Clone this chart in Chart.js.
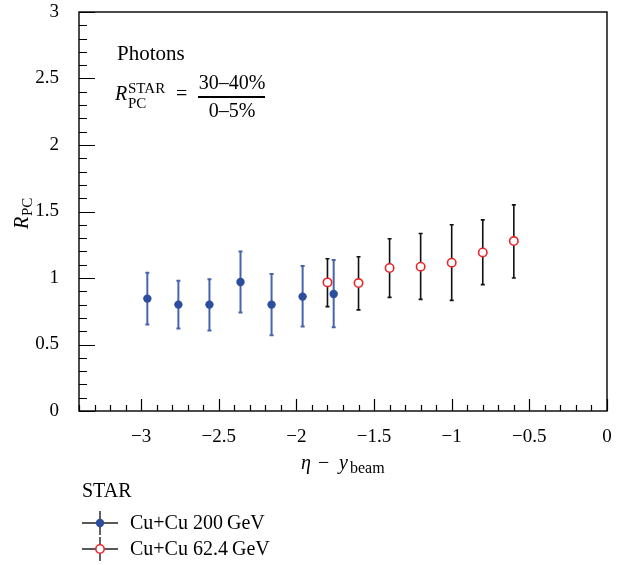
<!DOCTYPE html>
<html>
<head>
<meta charset="utf-8">
<script src="https://cdn.jsdelivr.net/npm/chart.js@4/dist/chart.umd.min.js"></script>
<style>
  body { margin: 0; background: #fff; }
  #wrap { width: 628px; height: 565px; }
</style>
</head>
<body>
<div id="wrap"><canvas id="rpc"></canvas></div>
<script>
// Cu+Cu 200 GeV
const blueX = [-2.96, -2.76, -2.56, -2.36, -2.16, -1.96, -1.76];
const blueY = [0.845, 0.80, 0.80, 0.97, 0.80, 0.86, 0.88];
const blueHi = [1.04, 0.98, 0.99, 1.20, 1.03, 1.09, 1.135];
const blueLo = [0.65, 0.62, 0.605, 0.74, 0.57, 0.635, 0.63];

// Cu+Cu 62.4 GeV
const redX = [-1.8, -1.6, -1.4, -1.2, -1.0, -0.8, -0.6];
const redY = [0.967, 0.962, 1.075, 1.085, 1.115, 1.192, 1.278];
const redHi = [1.145, 1.16, 1.295, 1.335, 1.40, 1.437, 1.55];
const redLo = [0.785, 0.76, 0.854, 0.839, 0.832, 0.95, 1.00];

const xTicks = [-3, -2.5, -2, -1.5, -1, -0.5, 0];
const yTicks = [0, 0.5, 1, 1.5, 2, 2.5, 3];

const legendTitle = "STAR";
const seriesNames = ["Cu+Cu 200\u2009GeV", "Cu+Cu 62.4\u2009GeV"];

const SERIF = "'Liberation Serif', 'DejaVu Serif', serif";
const BLUE = "#2d4d9e";
const BLUE_BAR = "#4764ad";
const RED = "#e8262a";

function fmt(v) {
  return v < 0 ? "\u2212" + String(Math.abs(v)) : String(v);
}

function toPts(xs, ys) {
  return xs.map((x, i) => ({ x: x, y: ys[i] }));
}

// error bars, frame and inward ticks
const decor = {
  id: "decor",
  beforeDatasetsDraw(chart) {
    const ctx = chart.ctx;
    const xs = chart.scales.x, ys = chart.scales.y;
    const bars = [
      { x: blueX, lo: blueLo, hi: blueHi, color: BLUE_BAR, w: 2 },
      { x: redX, lo: redLo, hi: redHi, color: "#111", w: 1.6 }
    ];
    ctx.save();
    bars.forEach((b) => {
      ctx.strokeStyle = b.color;
      ctx.lineWidth = b.w;
      b.x.forEach((xv, i) => {
        const px = xs.getPixelForValue(xv);
        const top = ys.getPixelForValue(b.hi[i]);
        const bot = ys.getPixelForValue(b.lo[i]);
        ctx.beginPath();
        ctx.moveTo(px, top);
        ctx.lineTo(px, bot);
        ctx.moveTo(px - 2, top);
        ctx.lineTo(px + 2, top);
        ctx.moveTo(px - 2, bot);
        ctx.lineTo(px + 2, bot);
        ctx.stroke();
      });
    });
    ctx.restore();
  },
  afterDraw(chart) {
    const ctx = chart.ctx;
    const a = chart.chartArea;
    const xs = chart.scales.x, ys = chart.scales.y;
    ctx.save();
    ctx.strokeStyle = "#000";
    ctx.lineWidth = 1.4;
    ctx.strokeRect(a.left, a.top, a.right - a.left, a.bottom - a.top);

    ctx.lineWidth = 1.2;
    ctx.beginPath();
    for (let k = -34; k <= 0; k++) {
      const v = k / 10;
      const px = Math.round(xs.getPixelForValue(v)) + 0.5;
      const len = k % 5 === 0 ? 12 : 6;
      ctx.moveTo(px, a.bottom);
      ctx.lineTo(px, a.bottom - len);
    }
    for (let k = 0; k <= 30; k++) {
      const v = k / 10;
      const py = Math.round(ys.getPixelForValue(v)) + 0.5;
      const len = k % 5 === 0 ? 16 : 8;
      ctx.moveTo(a.left, py);
      ctx.lineTo(a.left + len, py);
    }
    ctx.stroke();

    // annotation text
    ctx.fillStyle = "#000";
    ctx.textBaseline = "alphabetic";
    ctx.textAlign = "left";
    ctx.font = "21px " + SERIF;
    ctx.fillText("Photons", 117, 60);
    ctx.font = "italic 20px " + SERIF;
    ctx.fillText("R", 115, 100);
    ctx.font = "15px " + SERIF;
    ctx.fillText("STAR", 128, 93);
    ctx.fillText("PC", 128, 108);
    ctx.font = "20px " + SERIF;
    ctx.fillText("=", 176, 100);
    ctx.textAlign = "center";
    ctx.fillText("30\u201340%", 232, 89);
    ctx.fillText("0\u20135%", 232, 117);
    ctx.lineWidth = 1.8;
    ctx.beginPath();
    ctx.moveTo(198, 97);
    ctx.lineTo(265, 97);
    ctx.stroke();

    // x axis title
    ctx.textAlign = "left";
    ctx.font = "italic 20px " + SERIF;
    ctx.fillText("\u03b7", 301, 469);
    ctx.font = "20px " + SERIF;
    ctx.fillText("\u2212", 318, 469);
    ctx.font = "italic 20px " + SERIF;
    ctx.fillText("y", 339, 469);
    ctx.font = "16px " + SERIF;
    ctx.fillText("beam", 350, 473);

    // y axis title
    ctx.save();
    ctx.translate(28, 229);
    ctx.rotate(-Math.PI / 2);
    ctx.font = "italic 20px " + SERIF;
    ctx.fillText("R", 0, 0);
    ctx.font = "15px " + SERIF;
    ctx.fillText("PC", 13, 4);
    ctx.restore();

    // legend
    ctx.font = "20px " + SERIF;
    ctx.textBaseline = "middle";
    ctx.fillText(legendTitle, 82, 492);
    const rows = [523, 549];
    chart.data.datasets.forEach((ds, i) => {
      const y = rows[i];
      ctx.strokeStyle = "#222";
      ctx.lineWidth = 1.4;
      ctx.beginPath();
      ctx.moveTo(82, y);
      ctx.lineTo(118, y);
      ctx.moveTo(100, y - 12);
      ctx.lineTo(100, y + 12);
      ctx.stroke();
      ctx.beginPath();
      ctx.arc(100, y, ds.pointRadius, 0, Math.PI * 2);
      ctx.fillStyle = ds.backgroundColor;
      ctx.fill();
      if (ds.borderWidth) {
        ctx.strokeStyle = ds.borderColor;
        ctx.lineWidth = ds.borderWidth;
        ctx.stroke();
      }
      ctx.fillStyle = "#000";
      ctx.fillText(seriesNames[i], 130, y + 1);
    });
    ctx.restore();
  }
};

new Chart(document.getElementById("rpc"), {
  type: "scatter",
  data: {
    datasets: [
      {
        label: seriesNames[0],
        data: toPts(blueX, blueY),
        pointRadius: 4.2,
        pointHoverRadius: 4.2,
        backgroundColor: BLUE,
        borderColor: BLUE,
        borderWidth: 0
      },
      {
        label: seriesNames[1],
        data: toPts(redX, redY),
        pointRadius: 4.2,
        pointHoverRadius: 4.2,
        backgroundColor: "#ffffff",
        borderColor: RED,
        borderWidth: 1.6
      }
    ]
  },
  options: {
    responsive: true,
    maintainAspectRatio: false,
    animation: false,
    layout: { padding: { top: 12, right: 21, left: 0, bottom: 0 } },
    plugins: {
      legend: { display: false },
      tooltip: { enabled: false }
    },
    scales: {
      x: {
        type: "linear",
        min: -3.4,
        max: 0,
        afterBuildTicks: (s) => { s.ticks = xTicks.map((v) => ({ value: v })); },
        afterFit: (s) => { s.height = 154; s.paddingLeft = 0; s.paddingRight = 0; },
        grid: { display: false },
        border: { display: false },
        ticks: {
          color: "#000",
          padding: 7,
          maxRotation: 0,
          font: { family: SERIF, size: 19 },
          callback: (v) => fmt(v)
        }
      },
      y: {
        type: "linear",
        min: 0,
        max: 3,
        afterBuildTicks: (s) => { s.ticks = yTicks.map((v) => ({ value: v })); },
        afterFit: (s) => { s.width = 79; s.paddingTop = 0; s.paddingBottom = 0; },
        grid: { display: false },
        border: { display: false },
        ticks: {
          color: "#000",
          padding: 12,
          font: { family: SERIF, size: 19 },
          callback: (v) => fmt(v)
        }
      }
    }
  },
  plugins: [decor]
});
</script>
</body>
</html>
